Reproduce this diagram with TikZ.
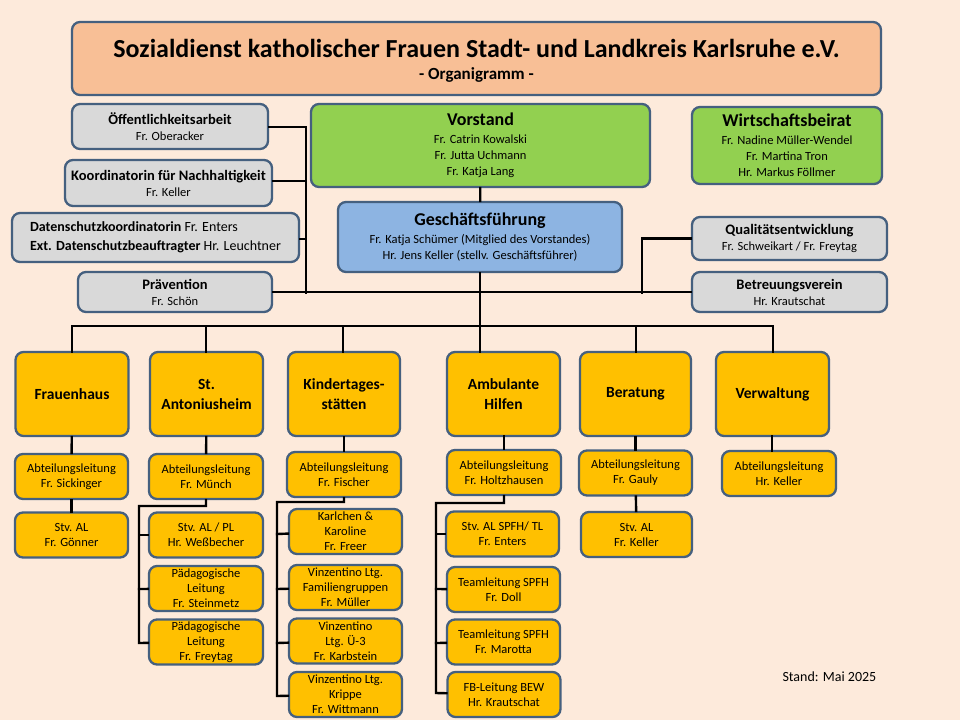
\documentclass[tikz,border=0pt]{standalone}
\usepackage{fontspec}
\setmainfont{Carlito}
\definecolor{bg}{HTML}{FDEADB}
\definecolor{edge}{HTML}{45607F}
\definecolor{peach}{HTML}{F8BF96}
\definecolor{greyfill}{HTML}{D9D9D9}
\definecolor{vgreen}{HTML}{92D050}
\definecolor{gfblue}{HTML}{8DB4E2}
\definecolor{dept}{HTML}{FFC000}
\newcommand{\sm}{\fontsize{12.5}{15}\selectfont}
\newcommand{\nm}{\fontsize{12.5}{16}\selectfont}
\newcommand{\hd}{\fontsize{14.5}{19}\selectfont\bfseries}
\newcommand{\bighd}{\fontsize{18}{23}\selectfont\bfseries}
\begin{document}
\begin{tikzpicture}[x=1pt, y=-1pt,
  box/.style={rectangle, rounded corners=8pt, draw=edge, line width=2.3pt, align=center, inner sep=0pt, font=\nm},
  gbox/.style={box, fill=greyfill},
  deptbox/.style={box, fill=dept, minimum width=113, minimum height=84, font=\fontsize{15.5}{20}\selectfont\bfseries},
  subbox/.style={box, fill=dept, minimum width=113, minimum height=45, font=\sm},
  link/.style={line width=2.4pt, line cap=rect}]

  \fill[bg] (0,0) rectangle (960,720);
  \useasboundingbox (0,0) rectangle (960,720);

  % head
  \node[box, fill=peach, minimum width=809, minimum height=73] (title) at (476.5,58.5) {};
  \node at (476.5,48) {\fontsize{26}{30}\selectfont\bfseries Sozialdienst katholischer Frauen Stadt- und Landkreis Karlsruhe e.V.};
  \node at (476.5,75) {\fontsize{17}{20}\selectfont\bfseries - Organigramm -};

  % staff
  \node[gbox, minimum width=196, minimum height=45] (oeff) at (170,126.5) {\hd Öffentlichkeitsarbeit\\Fr. Oberacker};
  \node[gbox, minimum width=207, minimum height=46] (nachh) at (168.5,183) {\hd Koordinatorin für Nachhaltigkeit\\Fr. Keller};
  \node[gbox, minimum width=287, minimum height=49, align=left, font=\fontsize{14}{19}\selectfont] (daten) at (155.5,237.5) {\textbf{Datenschutzkoordinatorin} Fr. Enters\\\textbf{Ext. Datenschutzbeauftragter} Hr. Leuchtner};
  \node[gbox, minimum width=194, minimum height=40] (praev) at (175,292) {\hd Prävention\\Fr. Schön};
  \node[box, fill=vgreen, minimum width=339, minimum height=83] (vorst) at (480.5,145.5) {\bighd Vorstand\\[2pt]Fr. Catrin Kowalski\\Fr. Jutta Uchmann\\Fr. Katja Lang};
  \node[box, fill=vgreen, minimum width=190, minimum height=77] (wirt) at (787,145.5) {\bighd Wirtschaftsbeirat\\[2pt]Fr. Nadine Müller-Wendel\\Fr. Martina Tron\\Hr. Markus Föllmer};
  \node[box, fill=gfblue, minimum width=284, minimum height=70] (gf) at (480,237) {\bighd Geschäftsführung\\[2pt]Fr. Katja Schümer (Mitglied des Vorstandes)\\Hr. Jens Keller (stellv. Geschäftsführer)};
  \node[gbox, minimum width=195, minimum height=43] (quali) at (789.5,238.5) {\hd Qualitätsentwicklung\\Fr. Schweikart / Fr. Freytag};
  \node[gbox, minimum width=195, minimum height=40] (betr) at (789.5,292) {\hd Betreuungsverein\\Hr. Krautschat};

  \coordinate (staffbus) at (306,293);
  \draw[link] (oeff.east |- 0,127) -| (staffbus);
  \draw[link] (nachh.east |- 0,181) -- (306,181);
  \draw[link] (daten.east |- 0,239) -- (306,239);
  \draw[link] (praev) -- (betr);
  \draw[link] (quali) -| (642,293);
  \draw[link] (vorst) -- (gf);
  \draw[link] (gf.south) -- (480,326);

  % departments
  \node[deptbox] (fh) at (72,394) {Frauenhaus};
  \node[deptbox] (anton) at (206.5,394) {St.\\Antoniusheim};
  \node[deptbox, minimum width=112] (kita) at (344,394) {Kindertages-\\stätten};
  \node[deptbox] (amb) at (503.5,394) {Ambulante\\Hilfen};
  \node[deptbox, minimum width=111] (ber) at (635.5,394) {Beratung};
  \node[deptbox] (verw) at (772.5,394) {Verwaltung};
  \draw[link] (72,326) -- (773,326);
  \foreach \dx in {72,206,343,480,636,773}
    \draw[link] (\dx,326) -- (\dx,352);

  % Frauenhaus
  \node[subbox] (fhal) at (71.5,476.5) {Abteilungsleitung\\Fr. Sickinger};
  \node[subbox] (fhstv) at (71.5,535) {Stv. AL\\Fr. Gönner};
  \draw[link] (fh) -- (fhal);
  \draw[link] (fhal) -- (fhstv);

  % Antoniusheim
  \node[subbox, minimum width=114] (anal) at (206,476.5) {Abteilungsleitung\\Fr. Münch};
  \node[subbox, minimum width=114] (anstv) at (206,535) {Stv. AL / PL\\Hr. Weßbecher};
  \node[subbox, minimum width=114] (anpl1) at (206,588.5) {Pädagogische\\Leitung\\Fr. Steinmetz};
  \node[subbox, minimum width=114] (anpl2) at (206,642) {Pädagogische\\Leitung\\Fr. Freytag};
  \draw[link] (anton) -- (anal);
  \draw[link] (anal) -- (206,506) -| (139,643) -- (anpl2);
  \draw[link] (139,535) -- (anstv);
  \draw[link] (139,589) -- (anpl1);

  % Kita
  \node[subbox, minimum width=114] (kial) at (344,474.5) {Abteilungsleitung\\Fr. Fischer};
  \node[subbox] (kikar) at (345.5,531.5) {Karlchen \&\\Karoline\\Fr. Freer};
  \node[subbox] (kifam) at (345.5,587.5) {Vinzentino Ltg.\\Familiengruppen\\Fr. Müller};
  \node[subbox] (kiu3) at (345.5,641) {Vinzentino\\Ltg. Ü-3\\Fr. Karbstein};
  \node[subbox] (kikr) at (345.5,694.5) {Vinzentino Ltg.\\Krippe\\Fr. Wittmann};
  \draw[link] (kita) -- (kial);
  \draw[link] (kial) -- (344,502) -| (277,696) -- (kikr);
  \foreach \ky/\kn in {534/kikar,589/kifam,643/kiu3}
    \draw[link] (277,\ky) -- (\kn);

  % Ambulante Hilfen
  \node[subbox, minimum width=114] (amal) at (504,472.5) {Abteilungsleitung\\Fr. Holtzhausen};
  \node[subbox] (amstv) at (502.5,534) {Stv. AL SPFH/ TL\\Fr. Enters};
  \node[subbox] (amdoll) at (503.5,589.5) {Teamleitung SPFH\\Fr. Doll};
  \node[subbox] (ammar) at (503.5,642) {Teamleitung SPFH\\Fr. Marotta};
  \node[subbox] (ambew) at (504,694.5) {FB-Leitung BEW\\Hr. Krautschat};
  \draw[link] (amal) -- (504,503) -| (436,693) -- (ambew);
  \foreach \ay/\an in {534/amstv,589/amdoll,643/ammar}
    \draw[link] (436,\ay) -- (\an);
  \draw[link] (504,436) -- (amal);

  % Beratung
  \node[subbox, minimum width=113] (beal) at (635.5,473) {Abteilungsleitung\\Fr. Gauly};
  \node[subbox, minimum width=111] (bestv) at (636.5,534.5) {Stv. AL\\Fr. Keller};
  \draw[link] (ber) -- (beal);
  \draw[link] (beal) -- (bestv);

  % Verwaltung
  \node[subbox, minimum width=114] (veal) at (779,473.5) {Abteilungsleitung\\Hr. Keller};
  \draw[link] (772,436) -- (772,451);

  \node[font=\fontsize{14}{17}\selectfont, anchor=west] (stand) at (779,677) {Stand: Mai 2025};
\end{tikzpicture}
\end{document}
